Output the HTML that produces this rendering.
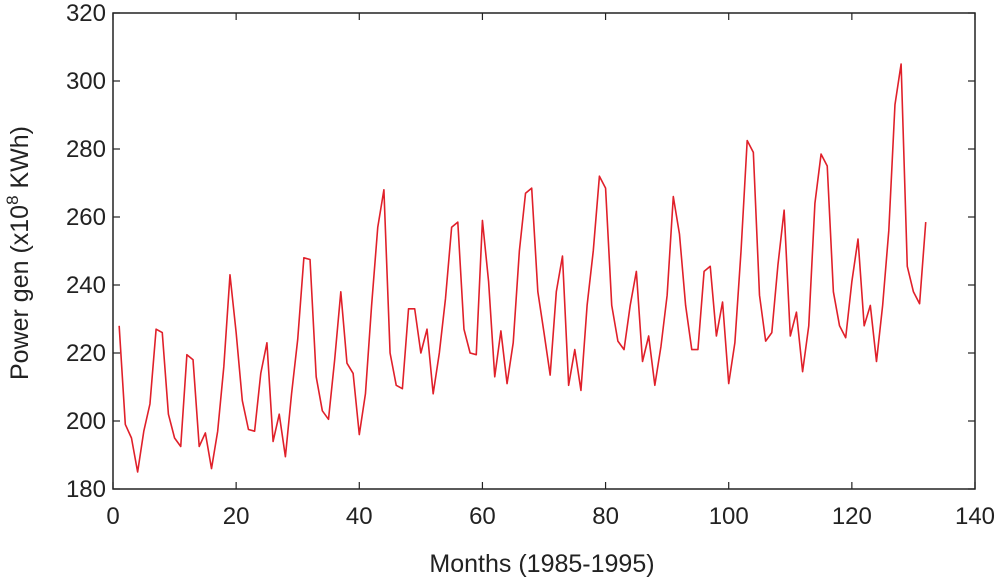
<!DOCTYPE html>
<html><head><meta charset="utf-8"><style>
body{margin:0;background:#fff;}
svg{display:block;font-family:"Liberation Sans",sans-serif;}
</style></head><body>
<svg id="chart" width="1000" height="577"></svg>
<script>
const months = [];
const power = [228,199,195,185,197,205,227,226,202,195,192.5,219.5,218,192.5,196.5,186,197,216,243,226,206,197.5,197,214,223,194,202,189.5,208,224,248,247.5,213,203,200.5,218,238,217,214,196,208,234,257,268,220,210.5,209.5,233,233,220,227,208,220,236,257,258.5,227,220,219.5,259,241,213,226.5,211,223,250,267,268.5,238,226,213.5,238,248.5,210.5,221,209,234,250,272,268.5,234,223.5,221,234,244,217.5,225,210.5,222,237,266,255,234,221,221,244,245.5,225,235,211,223,250,282.5,279,237,223.5,226,246,262,225,232,214.5,228,264,278.5,275,238,228,224.5,241,253.5,228,234,217.5,234,256,293,305,245.5,238,234.5,258.5];
for (let i = 0; i < power.length; i++) months.push(i + 1);
const xTicks = [0,20,40,60,80,100,120,140];
const yTicks = [180,200,220,240,260,280,300,320];

const L=113,R=975,T=13,B=489;
const xS=v=>L+(v-0)/(140-0)*(R-L);
const yS=v=>B-(v-180)/(320-180)*(B-T);
const NS="http://www.w3.org/2000/svg";
const svg=document.getElementById('chart');
function mk(tag,attrs){const e=document.createElementNS(NS,tag);for(const k in attrs)e.setAttribute(k,attrs[k]);svg.appendChild(e);return e;}

const box=mk('rect',{x:L,y:T,width:R-L,height:B-T,fill:'none',stroke:'#222','stroke-width':1.5});



xTicks.forEach(v=>{
  const x=xS(v);
  const t1=mk('line',{x1:x,y1:B,x2:x,y2:B-7,stroke:'#222','stroke-width':1.2});
  
  
  const t2=mk('line',{x1:x,y1:T,x2:x,y2:T+7,stroke:'#222','stroke-width':1.2});
  
  
  const lb=mk('text',{x:x,y:B+35,'text-anchor':'middle','font-size':24,fill:'#222'});
  lb.textContent=v;
  
  
});
yTicks.forEach(v=>{
  const y=yS(v);
  const t1=mk('line',{x1:L,y1:y,x2:L+7,y2:y,stroke:'#222','stroke-width':1.2});
  
  
  const t2=mk('line',{x1:R,y1:y,x2:R-7,y2:y,stroke:'#222','stroke-width':1.2});
  
  
  const lb=mk('text',{x:L-7,y:y+8,'text-anchor':'end','font-size':24,fill:'#222'});
  lb.textContent=v;
  
  
});

const pts=months.map((m,i)=>xS(m).toFixed(2)+','+yS(power[i]).toFixed(2)).join(' ');
const line=mk('polyline',{points:pts,fill:'none',stroke:'#e0202a','stroke-width':1.6,'stroke-linejoin':'round'});



const xt=mk('text',{x:542,y:572,'text-anchor':'middle','font-size':25,fill:'#222'});
xt.textContent='Months (1985-1995)';



const yt=mk('text',{x:0,y:0,'text-anchor':'middle','font-size':25,fill:'#222',transform:'translate(28,253) rotate(-90)'});
yt.innerHTML='Power gen (x10<tspan dy="-10" font-size="17">8</tspan><tspan dy="10"> KWh)</tspan>';


</script>
</body></html>
